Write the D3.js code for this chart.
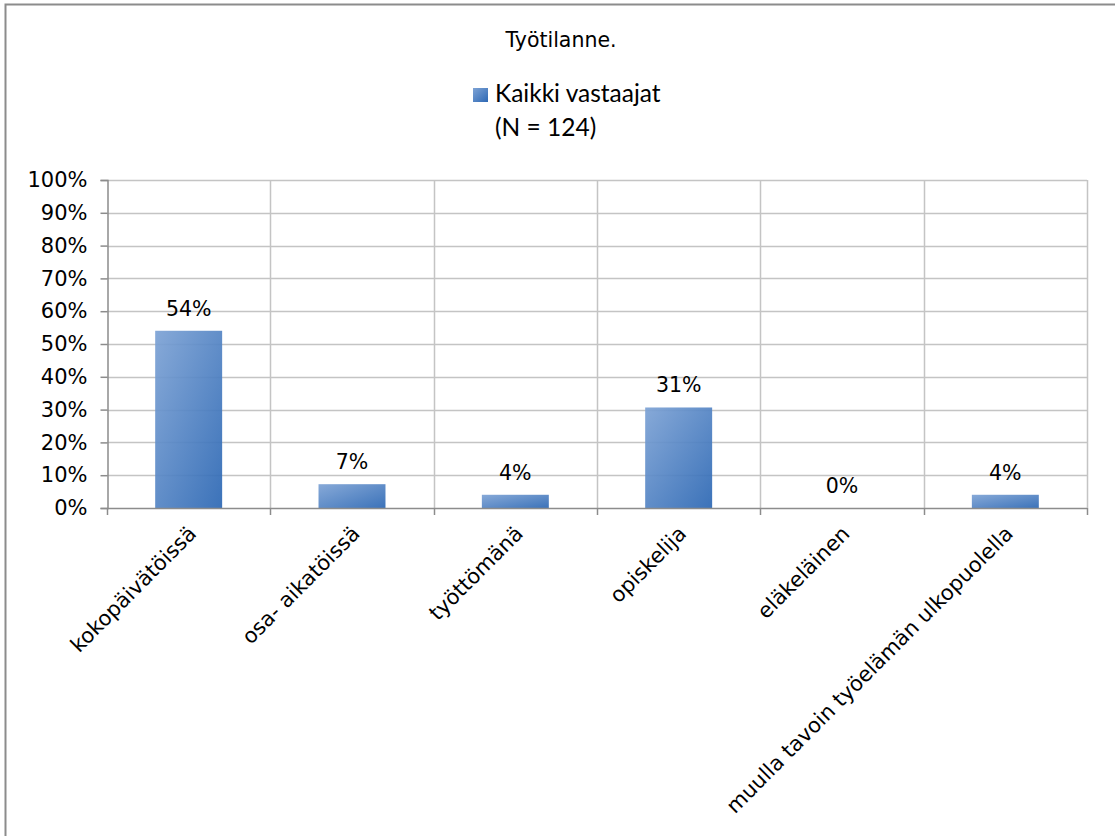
<!DOCTYPE html>
<html>
<head>
<meta charset="utf-8">
<script src="https://cdn.jsdelivr.net/npm/d3@7"></script>
<style>
  body { margin: 0; background: #fff; }
  svg { display: block; }
</style>
</head>
<body>
<svg id="chart" width="1115" height="836"></svg>
<script>
// data
var categories = ["kokopäivätöissä", "osa- aikatöissä", "työttömänä", "opiskelija", "eläkeläinen", "muulla tavoin työelämän ulkopuolella"];
var counts = [67, 9, 5, 38, 0, 5];
var total = 124;
var shares = counts.map(function(c) { return c / total; });
var yTicks = [0, 0.1, 0.2, 0.3, 0.4, 0.5, 0.6, 0.7, 0.8, 0.9, 1];
var seriesName = "Kaikki vastaajat";
var seriesNote = "(N = 124)";
var chartTitle = "Työtilanne.";

var svg = d3.select("#chart");
var axisFont = "DejaVu Sans, Verdana, sans-serif";
var textFont = "Lato, Open Sans, sans-serif";

var defs = svg.append("defs");
var grad = defs.append("linearGradient").attr("id", "barGrad")
    .attr("x1", "0").attr("y1", "0").attr("x2", "1").attr("y2", "1");
grad.append("stop").attr("offset", "0%").attr("stop-color", "#7ea3d5");
grad.append("stop").attr("offset", "100%").attr("stop-color", "#2d68b4");

// outer frame
svg.append("path")
    .attr("d", "M5.5,850 L5.5,4.5 L1120,4.5")
    .attr("fill", "none").attr("stroke", "#8c8c8c").attr("stroke-width", 2);

var plotL = 107, plotR = 1087, plotT = 180, plotB = 508;

var x = d3.scaleBand().domain(categories).range([plotL, plotR]).padding(0);
var y = d3.scaleLinear().domain([0, 1]).range([plotB, plotT]);
var barW = x.bandwidth() * 0.41;

// horizontal gridlines
svg.append("g").selectAll("line").data(yTicks.slice(1)).enter().append("line")
    .attr("x1", plotL).attr("x2", plotR)
    .attr("y1", function(d) { return Math.round(y(d)) + 0.5; })
    .attr("y2", function(d) { return Math.round(y(d)) + 0.5; })
    .attr("stroke", "#c4c4c4").attr("stroke-width", 1.5);

// vertical gridlines at category boundaries
var bounds = categories.map(function(c) { return x(c); }).concat([plotR]);
svg.append("g").selectAll("line").data(bounds.slice(1)).enter().append("line")
    .attr("x1", function(d) { return Math.round(d) + 0.5; })
    .attr("x2", function(d) { return Math.round(d) + 0.5; })
    .attr("y1", plotT).attr("y2", plotB)
    .attr("stroke", "#c4c4c4").attr("stroke-width", 1.5);

// bars
svg.append("g").selectAll("rect").data(shares).enter().append("rect")
    .attr("x", function(d, i) { return x(categories[i]) + (x.bandwidth() - barW) / 2; })
    .attr("y", function(d) { return y(d); })
    .attr("width", barW)
    .attr("height", function(d) { return plotB - y(d); })
    .attr("fill", "url(#barGrad)")
    .attr("opacity", 0.93);

// y axis
var yAxis = d3.axisLeft(y).tickValues(yTicks).tickFormat(d3.format(".0%")).tickSize(7).tickPadding(13);
var gy = svg.append("g").attr("transform", "translate(" + (plotL + 0.5) + ",0)").call(yAxis);
gy.attr("font-family", axisFont).attr("font-size", 21);
gy.select(".domain").attr("stroke", "#8c8c8c").attr("stroke-width", 1.5);
gy.selectAll(".tick line").attr("stroke", "#8c8c8c").attr("stroke-width", 1.5);
gy.selectAll(".tick text").attr("fill", "#000");

// x axis baseline and ticks
svg.append("line").attr("x1", plotL).attr("x2", plotR)
    .attr("y1", plotB + 0.5).attr("y2", plotB + 0.5)
    .attr("stroke", "#8c8c8c").attr("stroke-width", 1.5);
svg.append("g").selectAll("line").data(bounds).enter().append("line")
    .attr("x1", function(d) { return Math.round(d) + 0.5; })
    .attr("x2", function(d) { return Math.round(d) + 0.5; })
    .attr("y1", plotB).attr("y2", plotB + 7)
    .attr("stroke", "#8c8c8c").attr("stroke-width", 1.5);

// x labels rotated
svg.append("g").attr("font-family", axisFont).attr("font-size", 21)
    .selectAll("text").data(categories).enter().append("text")
    .attr("transform", function(d) {
        var cx = x(d) + x.bandwidth() / 2 + 9;
        return "translate(" + cx + "," + (plotB + 27) + ") rotate(-45)";
    })
    .attr("text-anchor", "end")
    .attr("fill", "#000")
    .text(function(d) { return d; });

// value labels
svg.append("g").attr("font-family", axisFont).attr("font-size", 20.5)
    .selectAll("text").data(shares).enter().append("text")
    .attr("x", function(d, i) { return x(categories[i]) + x.bandwidth() / 2; })
    .attr("y", function(d) { return y(d) - 15; })
    .attr("text-anchor", "middle")
    .attr("fill", "#000")
    .text(function(d) { return Math.round(d * 100) + "%"; });

// title
svg.append("text").attr("x", 561).attr("y", 47).attr("text-anchor", "middle")
    .attr("font-family", axisFont).attr("font-size", 20.5).attr("fill", "#000")
    .text(chartTitle);

// legend
svg.append("rect").attr("x", 473).attr("y", 88).attr("width", 15).attr("height", 14)
    .attr("fill", "url(#barGrad)");
svg.append("text").attr("x", 495).attr("y", 102)
    .attr("font-family", textFont).attr("font-size", 24.5).attr("fill", "#000")
    .text(seriesName);
svg.append("text").attr("x", 495).attr("y", 136)
    .attr("font-family", textFont).attr("font-size", 24.5).attr("fill", "#000")
    .text(seriesNote);
</script>
</body>
</html>
